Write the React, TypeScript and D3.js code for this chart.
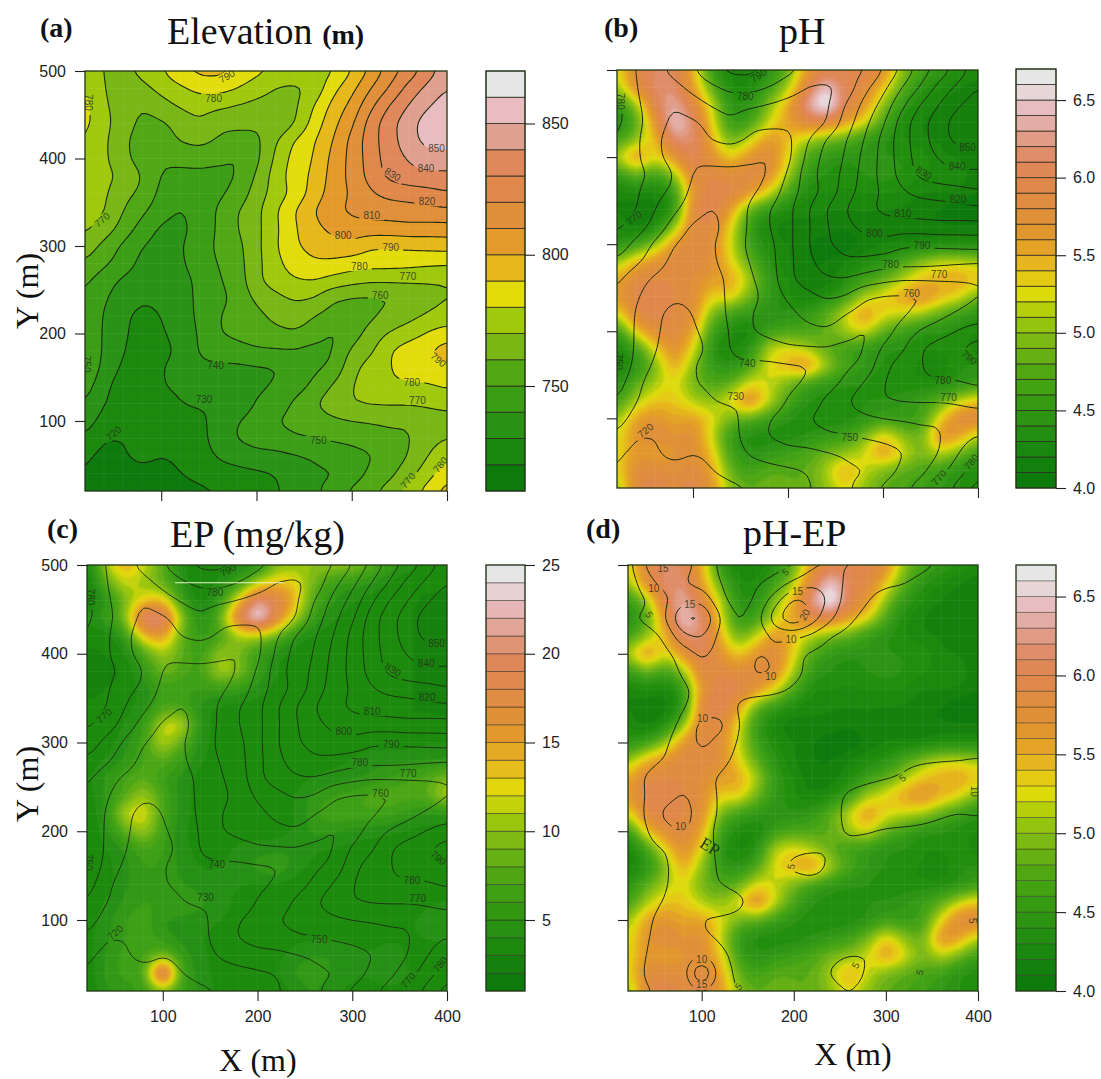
import React, { useEffect, useRef } from "react";
import * as d3 from "d3";

const xTicks = [100, 200, 300, 400];
const yTicks = [100, 200, 300, 400, 500];

// rows run from y=500 down to y=20, columns from x=20 to x=400, every 20 m
const elevationGrid = [
  [778,769,767,773,779,788,793,793,789,783,778,775,775,779,790,802,815,824,835,846],
  [781,770,764,767,773,778,783,784,780,774,769,768,772,787,797,810,821,834,843,850],
  [784,771,766,760,766,771,774,772,769,767,767,767,780,793,803,818,831,841,849,856],
  [783,773,765,757,758,764,769,762,763,762,761,769,784,797,808,825,837,846,856,862],
  [780,772,762,755,754,761,763,759,755,757,769,781,789,800,813,826,836,846,854,855],
  [777,772,763,755,751,752,754,752,749,757,772,784,790,803,813,825,835,841,845,845],
  [776,773,768,760,749,748,747,747,750,761,775,785,792,804,813,824,833,837,838,838],
  [775,772,763,758,747,742,745,748,753,765,774,783,794,805,811,819,823,824,826,829],
  [775,771,760,752,744,739,744,751,760,767,779,790,800,808,812,814,815,816,817,818],
  [772,766,756,746,738,737,744,751,760,767,778,789,797,803,806,806,806,807,806,806],
  [766,757,748,740,736,739,745,752,757,767,779,789,793,796,797,791,791,792,793,794],
  [759,752,745,737,735,738,746,750,756,767,777,785,789,788,785,784,784,783,782,781],
  [752,744,738,735,733,735,743,749,754,768,775,779,780,776,773,771,771,771,770,770],
  [749,741,735,731,732,736,742,747,753,762,767,771,770,761,759,758,759,762,767,770],
  [749,739,732,727,730,735,742,750,753,757,763,766,760,756,753,758,763,767,771,773],
  [751,738,732,725,729,733,741,750,752,754,757,759,755,748,755,764,771,775,781,786],
  [751,738,731,723,727,732,741,745,747,749,749,749,746,749,762,768,780,786,790,795],
  [749,737,728,722,730,733,738,737,737,738,739,743,748,752,767,775,780,783,785,789],
  [745,733,724,721,730,731,733,736,737,738,741,745,752,761,770,775,779,779,779,781],
  [740,730,725,723,727,730,731,730,733,741,744,752,759,766,770,771,771,771,772,774],
  [735,726,724,724,726,727,728,733,740,744,750,753,755,758,760,761,762,761,764,765],
  [729,720,720,723,724,725,727,734,741,744,746,749,750,751,752,754,757,759,766,770],
  [722,717,719,723,720,722,726,731,734,737,737,739,741,745,747,749,754,760,770,778],
  [720,713,716,717,716,720,723,726,727,728,730,734,738,739,744,752,757,766,776,786],
  [719,713,714,714,714,716,718,720,723,725,729,733,738,744,752,758,764,775,784,795],
];

const phGrid = [
  [5.2,5.9,6.1,6.1,5.5,4.5,4.2,4.2,4.4,4.8,5.6,5.9,6.0,6.0,5.8,5.0,4.7,4.5,4.4,4.3],
  [5.0,5.8,6.2,6.2,5.6,4.8,4.3,4.3,4.6,5.1,5.9,6.6,6.0,5.9,5.4,4.8,4.4,4.3,4.2,4.1],
  [4.5,5.0,6.0,6.4,5.9,5.2,4.4,4.4,5.0,5.5,6.3,6.9,6.0,5.7,5.0,4.5,4.3,4.2,4.1,4.1],
  [4.3,4.7,5.7,6.6,6.2,5.3,4.5,4.6,5.2,5.6,5.9,5.9,5.6,5.3,4.7,4.3,4.2,4.1,4.1,4.1],
  [4.6,5.0,5.4,6.2,6.2,5.5,4.8,5.2,5.7,5.4,5.1,4.9,4.8,4.5,4.4,4.3,4.2,4.2,4.1,4.1],
  [5.1,5.8,5.2,5.7,6.1,5.7,5.3,5.7,5.9,5.3,4.7,4.5,4.4,4.5,4.4,4.4,4.4,4.2,4.2,4.1],
  [4.5,4.9,4.6,5.0,5.9,5.9,5.8,5.9,5.8,5.1,4.5,4.4,4.3,4.4,4.5,4.4,4.3,4.3,4.3,4.1],
  [4.2,4.3,4.2,4.5,5.7,6.0,6.0,5.7,5.3,4.7,4.3,4.3,4.3,4.3,4.3,4.3,4.2,4.2,4.2,4.1],
  [4.2,4.1,4.1,4.4,5.9,6.1,5.6,4.8,4.5,4.3,4.2,4.2,4.2,4.2,4.2,4.2,4.1,4.1,4.0,4.0],
  [4.3,4.1,4.3,5.0,5.9,5.9,5.3,4.5,4.2,4.1,4.2,4.2,4.1,4.2,4.1,4.1,4.1,4.1,4.1,4.1],
  [4.4,4.6,5.0,5.7,5.9,5.8,5.2,4.6,4.3,4.2,4.1,4.0,4.0,4.1,4.2,4.2,4.2,4.3,4.3,4.3],
  [5.0,5.5,5.7,5.9,5.9,5.8,5.3,4.8,4.4,4.2,4.1,4.1,4.2,4.3,4.4,4.7,5.0,5.2,5.2,5.1],
  [5.5,5.9,5.9,5.9,5.8,5.6,5.6,5.1,4.5,4.3,4.1,4.1,4.3,4.6,4.8,5.1,5.4,5.5,5.6,5.4],
  [5.6,6.0,6.0,5.9,5.8,5.3,5.4,4.9,4.5,4.3,4.2,4.3,4.6,5.1,5.3,5.6,5.8,5.5,5.3,4.9],
  [5.2,5.9,6.0,5.9,5.8,4.9,4.6,4.5,4.4,4.4,4.5,4.8,5.2,5.7,5.3,5.2,5.1,4.8,4.6,4.4],
  [4.5,5.4,5.8,5.9,5.6,4.6,4.3,4.2,4.6,4.7,4.7,4.8,5.1,5.3,4.8,4.6,4.4,4.4,4.3,4.3],
  [4.2,4.6,5.3,5.8,5.3,4.4,4.2,4.4,5.2,5.3,5.1,4.8,4.6,4.5,4.4,4.4,4.3,4.3,4.4,4.2],
  [4.2,4.4,4.9,5.6,5.0,4.5,4.4,4.7,5.3,5.5,5.8,5.1,4.7,4.5,4.4,4.3,4.3,4.2,4.4,4.4],
  [4.4,4.8,5.1,5.3,4.9,4.7,4.8,5.3,5.2,4.9,4.6,4.5,4.4,4.4,4.3,4.3,4.3,4.3,4.4,4.6],
  [4.6,5.1,5.4,5.4,5.1,5.0,5.3,5.9,5.2,4.7,4.4,4.3,4.3,4.4,4.4,4.5,4.6,4.8,5.2,5.4],
  [5.0,5.6,5.7,5.5,5.6,5.3,4.9,4.8,4.6,4.4,4.3,4.3,4.3,4.4,4.6,4.5,4.6,5.3,5.9,5.9],
  [5.2,5.7,5.9,5.7,5.8,5.2,4.5,4.3,4.3,4.3,4.4,4.5,4.6,4.9,5.4,5.0,4.8,5.8,5.6,5.1],
  [5.2,5.7,5.5,5.7,5.8,5.4,4.6,4.4,4.5,4.6,4.7,4.9,5.0,5.2,5.7,5.3,4.9,5.2,4.9,4.6],
  [5.3,5.8,5.9,5.7,5.9,5.6,4.8,4.6,4.8,4.8,4.8,5.1,5.6,5.2,4.9,4.8,4.7,4.6,4.4,4.3],
  [4.9,5.9,6.0,5.9,6.0,5.7,5.0,4.8,4.9,4.8,4.8,5.0,5.3,5.0,4.8,4.7,4.6,4.5,4.4,4.3],
];

const epGrid = [
  [3,11,15,12,8,4,3,3,3.5,4,9,10,10.2,10.3,10.2,8,6,4.5,3.5,3],
  [2,8,12,10,8,5,2.5,4.5,6,11,14,13,8.5,6,5.3,5,3.5,3,3,3],
  [2.5,4.5,9,13,14,6,3,5.5,13,22,19,14,7,5,4,3.5,3,3,3,3],
  [4.5,6,9,22,22,10,4,8,19,26,18,11,5.5,4,3.5,3,3,3,3,2.5],
  [3,3,5.5,14,16,8,5.5,6.5,11,10.5,8.5,4.5,3.5,3.5,3,3,3,3,3,2.5],
  [3,3,3.5,7,11,8,6,10.5,9,6,4,3.5,3.5,3.5,3.5,3.5,3,3,3,2.5],
  [3,2.5,3,5.5,9,7.5,6.5,11.5,10,6,4,3.5,3.5,3.5,3.5,3,3,3,3,2.5],
  [3,3,3.5,4,6.5,6,6,6,5.5,4.5,3.5,3.5,3.5,3.5,3,3,3,3,3,2.5],
  [3,3,3.5,4.5,7,7,4.5,3.5,3.5,3.5,3.5,3.5,3.5,3.5,3,3,3,3,3,3],
  [3,3.5,4,5.5,12,12.5,4.5,3.5,3.5,3.5,3.5,3.5,3.5,3.5,3.5,3,3,3,3,3],
  [3.5,3.5,4.5,6.5,12,8,4.3,3.5,3.5,3.5,3.5,3.5,3.5,3.5,3.5,3.5,3.5,3.5,4,4],
  [3.5,4,5,7,8,6,4,3.5,3.5,3.5,3.5,3.5,3.5,3.5,4,4.7,4.7,4.7,4.7,4.8],
  [3.5,5.3,7,8,6,4.5,3.5,3.5,3.5,3.5,3.5,3.5,4,4.5,4.8,5.1,6,7,7.5,9.5],
  [3.5,5,7.5,11,7,4.5,3.5,3.5,3.5,3.5,3.5,4,5.5,6,6.5,7.5,8,7.5,8,12],
  [3,5,12,13,7,4.5,3.5,3.5,3.5,3.5,3.5,3.8,6,7,7,7,6.5,5.5,4.7,4.8],
  [3,4.5,8,11,6.5,4,3.5,3.5,3.5,3.5,3.5,4,5.5,5.2,4.5,4.3,4,3.7,3.5,3.5],
  [3,4,4.8,7,6,4.5,3.5,3.5,4.3,4.5,4.5,5.15,4,3.8,3.7,3.5,3.5,3.5,3.5,3.5],
  [3,3.5,4.7,6,6,4.7,3.8,4,4.5,5.5,6.8,4.3,3.8,3.5,3.5,3.5,3.5,3.5,3.5,3],
  [3,3.5,4.8,6,5.5,5,4.5,4.3,4,3.8,3.5,3.5,3.5,3.5,3.5,3.5,3.5,3.5,3.5,3.5],
  [3.5,4,5.2,6,6,6,5.5,4.3,3.8,3.5,3.5,3.5,3.5,3.5,3.5,3.5,3.5,3.5,3.7,4],
  [3.5,4.5,6,7,4.8,4.7,4.5,4,3.8,3.5,3.5,3.5,3.5,3.5,3.5,3.5,3.5,3.8,4.5,5.5],
  [3.5,4.8,6,6.5,5.3,4.5,4,3.5,3.5,3.5,3.5,3.8,3.8,3.8,3.8,3.8,3.8,4,4,4.3],
  [3.5,5,6.5,6.5,9,5.5,4.3,3.5,3.5,3.8,3.8,4.3,4.9,5.15,4.3,4,4.5,3.8,3.5,3.5],
  [3,5.5,6.5,6.5,25,6,4.5,3.5,3.5,3.5,3.8,5.2,6.8,4.5,4.2,4.1,5.4,3.8,3.5,3.5],
  [3,4.8,5.5,6,9,6,5,3.5,3.5,3.5,3.5,4,5,4,3.8,3.5,3.5,3.5,3.5,3.5],
];

const elevationLevels = d3.range(710, 871, 10);
const phLevels = d3.range(0, 28).map((i) => +(4 + i * 0.1).toFixed(1));
const epLevels = d3.range(1, 26);
const elevationLines = d3.range(720, 861, 10);
const epLines = [5, 10, 15, 20];

// [text, x, y, angle] in data units
const elevationLabels = [
  ["850",389,411,0],["840",378,389,0],["830",343,382,32],["820",379,351,0],["810",321,335,0],
  ["800",291,312,0],["790",341,298,0],["780",308,277,0],["770",359,265,0],["760",330,243,0],
  ["790",169,494,-30],["780",155,469,0],["780",24,464,90],["770",38,330,-40],["750",22,165,90],
  ["740",157,163,0],["730",145,125,0],["720",50,86,-40],["750",265,78,0],["780",363,144,0],
  ["770",369,124,0],["790",391,170,40],["770",359,32,-50],["780",393,50,-50],
];
const epLabels = [
  ["15",58,496,0],["10",48,473,0],["5",43,444,60],["15",87,456,0],["5",191,492,-40],
  ["15",204,470,0],["20",212,444,-60],["10",197,416,0],["10",175,374,0],["10",101,327,0],
  ["10",77,205,0],["5",318,260,-40],["10",396,245,90],["5",197,160,-80],["5",267,49,-60],
  ["5",394,99,90],["5",337,41,-70],["10",100,56,0],["15",100,27,0],["5",140,25,-50],
];

// colours sampled from the elevation colour bar
const colorPos = [0.03,0.094,0.156,0.219,0.281,0.344,0.406,0.469,0.531,0.594,0.656,0.719,0.781,0.844,0.906,0.969];
const colorHex = ["#0d7a0c","#1a880f","#2a9212","#3a9e12","#51a812","#78b714","#a0c90c","#e3dc0a","#e6b81e","#e39a2a","#e08f3a","#e0884a","#e0875c","#e0a090","#e8bcc0","#e6e6e6"];
const ramp = d3.scaleLinear<string>().domain(colorPos).range(colorHex).clamp(true);

const sans = "'Liberation Sans', Arial, sans-serif";
const serif = "'Liberation Serif', 'Times New Roman', serif";

// finer raster of a read grid so that d3.contours draws round lines, display only
const FINE = 4;
function fineRaster(grid: number[][], radius: number) {
  const rows = grid.length;
  const cols = grid[0].length;
  const width = (cols - 1) * FINE + 1;
  const height = (rows - 1) * FINE + 1;
  const data = new Float64Array(width * height);
  for (let j = 0; j < height; j++) {
    const r = Math.min(Math.floor(j / FINE), rows - 2);
    const v = j / FINE - r;
    for (let i = 0; i < width; i++) {
      const c = Math.min(Math.floor(i / FINE), cols - 2);
      const u = i / FINE - c;
      data[j * width + i] =
        grid[r][c] * (1 - u) * (1 - v) + grid[r][c + 1] * u * (1 - v) +
        grid[r + 1][c] * (1 - u) * v + grid[r + 1][c + 1] * u * v;
    }
  }
  d3.blur2({ data, width, height }, radius);
  return { data, width, height };
}

function drawPanel(svg: any, p: any) {
  const x = d3.scaleLinear().domain([20, 400]).range([p.left, p.right]);
  const y = d3.scaleLinear().domain([20, 500]).range([p.bottom, p.top]);
  const fill = fineRaster(p.fill, p.fillSmooth);
  const line = fineRaster(p.line, p.lineSmooth);
  const cell = 20 / FINE;
  const path = d3.geoPath(
    d3.geoTransform({
      point(cx: number, cy: number) {
        let px = x(20 + (cx - 0.5) * cell);
        let py = y(500 - (cy - 0.5) * cell);
        if (cx <= 0) px -= 25;
        if (cx >= fill.width) px += 25;
        if (cy <= 0) py -= 25;
        if (cy >= fill.height) py += 25;
        (this as any).stream.point(px, py);
      },
    })
  );
  const levels: number[] = p.levels;
  const lo = levels[0];
  const hi = levels[levels.length - 1];
  const bandColor = (v: number) => ramp((v - lo) / (hi - lo));

  const defs = svg.append("defs");
  defs.append("clipPath").attr("id", `clip-${p.id}`).append("rect")
    .attr("x", p.left).attr("y", p.top)
    .attr("width", p.right - p.left).attr("height", p.bottom - p.top);
  defs.append("filter").attr("id", `blur-${p.id}`)
    .attr("filterUnits", "userSpaceOnUse")
    .attr("x", p.left - 30).attr("y", p.top - 30)
    .attr("width", p.right - p.left + 60).attr("height", p.bottom - p.top + 60)
    .append("feGaussianBlur").attr("stdDeviation", p.blur);

  // gaps in the contour lines where the labels sit
  const mask = defs.append("mask").attr("id", `gap-${p.id}`).attr("maskUnits", "userSpaceOnUse")
    .attr("x", 0).attr("y", 0).attr("width", 1101).attr("height", 1079);
  mask.append("rect").attr("width", 1101).attr("height", 1079).attr("fill", "#fff");
  p.labels.forEach((l: any[]) => {
    const w = String(l[0]).length * 7 + 4;
    mask.append("rect")
      .attr("x", -w / 2).attr("y", -5).attr("width", w).attr("height", 10).attr("fill", "#000")
      .attr("transform", `translate(${x(l[1])},${y(l[2])}) rotate(${l[3]})`);
  });

  const plot = svg.append("g").attr("clip-path", `url(#clip-${p.id})`);
  const fillG = plot.append("g").attr("filter", `url(#blur-${p.id})`);
  fillG.append("rect").attr("x", p.left - 30).attr("y", p.top - 30)
    .attr("width", p.right - p.left + 60).attr("height", p.bottom - p.top + 60)
    .attr("fill", bandColor(lo));
  const bands = d3.contours().size([fill.width, fill.height]).smooth(true).thresholds(levels.slice(0, -1))(fill.data as any);
  fillG.selectAll("path").data(bands).join("path")
    .attr("d", (d: any) => path(d))
    .attr("fill", (d: any) => {
      const step = levels[1] - levels[0];
      return bandColor(d.value + step / 2);
    });

  // faint interpolation grid
  plot.append("g").selectAll("line").data(d3.range(20, 401, 20)).join("line")
    .attr("x1", (d: number) => x(d)).attr("x2", (d: number) => x(d))
    .attr("y1", p.top).attr("y2", p.bottom)
    .attr("stroke", "#fff").attr("stroke-opacity", 0.06);
  plot.append("g").selectAll("line").data(d3.range(20, 501, 20)).join("line")
    .attr("y1", (d: number) => y(d)).attr("y2", (d: number) => y(d))
    .attr("x1", p.left).attr("x2", p.right)
    .attr("stroke", "#fff").attr("stroke-opacity", 0.06);

  const lines = d3.contours().size([line.width, line.height]).smooth(true).thresholds(p.lineLevels)(line.data as any);
  plot.append("g").attr("mask", `url(#gap-${p.id})`)
    .selectAll("path").data(lines).join("path")
    .attr("d", (d: any) => path(d))
    .attr("fill", "none")
    .attr("stroke", "#1c2a12")
    .attr("stroke-linejoin", "round")
    .attr("stroke-width", p.lineWidth);

  plot.append("g").selectAll("text").data(p.labels).join("text")
    .attr("transform", (l: any) => `translate(${x(l[1])},${y(l[2])}) rotate(${l[3]})`)
    .attr("text-anchor", "middle").attr("dy", "0.35em")
    .attr("font-family", sans).attr("font-size", 10)
    .attr("fill", "#26331c").attr("fill-opacity", 0.85)
    .text((l: any) => l[0]);

  if (p.whiteLine) {
    plot.append("line")
      .attr("x1", x(p.whiteLine[0])).attr("x2", x(p.whiteLine[1]))
      .attr("y1", y(p.whiteLine[2])).attr("y2", y(p.whiteLine[2]))
      .attr("stroke", "#e8f4c8").attr("stroke-width", 1.2);
  }
  if (p.curveLabel) {
    plot.append("text")
      .attr("transform", `translate(${x(p.curveLabel[1])},${y(p.curveLabel[2])}) rotate(${p.curveLabel[3]})`)
      .attr("text-anchor", "middle").attr("dy", "0.35em")
      .attr("font-family", serif).attr("font-size", 17)
      .attr("fill", "#1c3a12").text(p.curveLabel[0]);
  }

  svg.append("rect").attr("x", p.left).attr("y", p.top)
    .attr("width", p.right - p.left).attr("height", p.bottom - p.top)
    .attr("fill", "none").attr("stroke", "#1f3312").attr("stroke-width", 1.3);

  const styleAxis = (g: any) => {
    g.select(".domain").remove();
    g.selectAll("line").attr("stroke", "#222").attr("stroke-width", 1.1);
    g.selectAll("text").attr("font-family", sans).attr("font-size", 16).attr("fill", "#222");
  };
  const xAxis = d3.axisBottom(x).tickValues(xTicks).tickSize(10).tickPadding(10);
  if (!p.xLabels) xAxis.tickFormat(() => "");
  svg.append("g").attr("transform", `translate(0,${p.bottom})`).call(xAxis).call(styleAxis);
  const yAxis = d3.axisLeft(y).tickValues(yTicks).tickSize(10).tickPadding(9);
  if (!p.yLabels) yAxis.tickFormat(() => "");
  svg.append("g").attr("transform", `translate(${p.left},0)`).call(yAxis).call(styleAxis);

  // colour bar
  const c = p.bar;
  const by = d3.scaleLinear().domain([lo, hi]).range([c.bottom, c.top]);
  svg.append("g").selectAll("rect").data(levels.slice(0, -1)).join("rect")
    .attr("x", c.left).attr("width", c.right - c.left)
    .attr("y", (v: number, i: number) => by(levels[i + 1]))
    .attr("height", (v: number, i: number) => by(v) - by(levels[i + 1]))
    .attr("fill", (v: number, i: number) => bandColor((v + levels[i + 1]) / 2))
    .attr("stroke", "#2b2b22").attr("stroke-width", 0.9).attr("stroke-opacity", c.lineOpacity);
  svg.append("rect").attr("x", c.left).attr("y", c.top)
    .attr("width", c.right - c.left).attr("height", c.bottom - c.top)
    .attr("fill", "none").attr("stroke", "#24361a").attr("stroke-width", 1.2);
  const barAxis = d3.axisRight(by).tickValues(c.ticks).tickSize(10).tickPadding(7).tickFormat(c.format);
  svg.append("g").attr("transform", `translate(${c.right},0)`).call(barAxis).call(styleAxis);

  // titles
  svg.append("text").attr("x", p.tagX).attr("y", p.tagY)
    .attr("font-family", serif).attr("font-weight", 700).attr("font-size", 28).attr("fill", "#111")
    .text(p.tag);
  const title = svg.append("text").attr("x", p.titleX).attr("y", p.titleY)
    .attr("font-family", serif).attr("font-size", 38).attr("fill", "#111");
  title.append("tspan").text(p.title);
  if (p.titleBold) {
    title.append("tspan").attr("font-size", 28).attr("font-weight", 700).text(p.titleBold);
  }
  if (p.yTitleY) {
    svg.append("text")
      .attr("transform", `translate(${p.yTitleX},${p.yTitleY}) rotate(-90)`)
      .attr("text-anchor", "middle")
      .attr("font-family", serif).attr("font-size", 32).attr("fill", "#111")
      .text("Y (m)");
  }
  if (p.xTitleX) {
    svg.append("text").attr("x", p.xTitleX).attr("y", p.xTitleY)
      .attr("text-anchor", "middle")
      .attr("font-family", serif).attr("font-size", 32).attr("fill", "#111")
      .text("X (m)");
  }
}

export default function App() {
  const svgRef = useRef<SVGSVGElement>(null);

  useEffect(() => {
    const svg = d3.select(svgRef.current);
    svg.selectAll("*").remove();

    const f0 = (v: number) => String(v);
    const f1 = (v: number) => v.toFixed(1);

    drawPanel(svg, {
      id: "a", tag: "(a)", tagX: 40, tagY: 37, title: "Elevation ", titleBold: "(m)", titleX: 167, titleY: 44,
      left: 85, right: 447, top: 71, bottom: 491, blur: 0.6, lineWidth: 1.1, fillSmooth: 0.5, lineSmooth: 0.5,
      fill: elevationGrid, levels: elevationLevels, line: elevationGrid, lineLevels: elevationLines, labels: elevationLabels,
      yLabels: true, xLabels: false, yTitleX: 38, yTitleY: 291,
      bar: { left: 486, right: 525, top: 71, bottom: 491, ticks: [750, 800, 850], format: f0, lineOpacity: 0.9 },
    });
    drawPanel(svg, {
      id: "b", tag: "(b)", tagX: 604, tagY: 37, title: "pH", titleX: 779, titleY: 44,
      left: 617, right: 978, top: 70, bottom: 488, blur: 0.9, lineWidth: 1, fillSmooth: 0.8, lineSmooth: 0.5,
      fill: phGrid, levels: phLevels, line: elevationGrid, lineLevels: elevationLines, labels: elevationLabels,
      yLabels: false, xLabels: false,
      bar: { left: 1016, right: 1056, top: 69, bottom: 488, ticks: [4, 4.5, 5, 5.5, 6, 6.5], format: f1, lineOpacity: 0.85 },
    });
    drawPanel(svg, {
      id: "c", tag: "(c)", tagX: 47, tagY: 538, title: "EP (mg/kg)", titleX: 170, titleY: 547,
      left: 87, right: 447, top: 565, bottom: 991, blur: 0.9, lineWidth: 0.9, fillSmooth: 0.8, lineSmooth: 0.5,
      fill: epGrid, levels: epLevels, line: elevationGrid, lineLevels: elevationLines, labels: elevationLabels,
      yLabels: true, xLabels: true, yTitleX: 38, yTitleY: 784, xTitleX: 258, xTitleY: 1071,
      whiteLine: [113, 228, 480],
      bar: { left: 486, right: 525, top: 565, bottom: 991, ticks: [5, 10, 15, 20, 25], format: f0, lineOpacity: 0.55 },
    });
    drawPanel(svg, {
      id: "d", tag: "(d)", tagX: 586, tagY: 538, title: "pH-EP", titleX: 743, titleY: 546,
      left: 628, right: 978, top: 565, bottom: 991, blur: 0.9, lineWidth: 1, fillSmooth: 0.8, lineSmooth: 0.5,
      fill: phGrid, levels: phLevels, line: epGrid, lineLevels: epLines, labels: epLabels,
      yLabels: false, xLabels: true, xTitleX: 853, xTitleY: 1065, curveLabel: ["EP", 109, 183, 32],
      bar: { left: 1016, right: 1056, top: 565, bottom: 991, ticks: [4, 4.5, 5, 5.5, 6, 6.5], format: f1, lineOpacity: 0.45 },
    });
  }, []);

  return (
    <svg
      ref={svgRef}
      width={1101}
      height={1079}
      viewBox="0 0 1101 1079"
      style={{ position: "absolute", left: 0, top: 0, display: "block", background: "#fff" }}
    />
  );
}
